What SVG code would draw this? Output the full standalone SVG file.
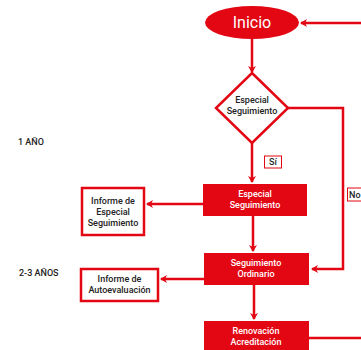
<svg xmlns="http://www.w3.org/2000/svg" width="361" height="350" viewBox="0 0 361 350">
<defs>
<marker id="ah" markerWidth="8" markerHeight="8" refX="6" refY="4" orient="auto" markerUnits="userSpaceOnUse">
<path d="M0,0 L7,4 L0,8 L2,4 Z" fill="#e30613"/>
</marker>
<style>
.ln{fill:none;stroke:#e30613;stroke-width:2.5}
.fill{fill:#e30613}
.out{fill:#fff;stroke:#e30613;stroke-width:2.5}
.wt{fill:#fff;font-family:Roboto,"Liberation Sans",sans-serif;font-size:9px;font-weight:500;text-anchor:middle}
.bt{fill:#222;font-family:Roboto,"Liberation Sans",sans-serif;font-size:9px;font-weight:500;text-anchor:middle}
.lb{fill:#222;font-family:Roboto,"Liberation Sans",sans-serif;font-size:9px;font-weight:500}
</style>
</defs>
<rect width="361" height="350" fill="#fff"/>
<g id="connectors">
<path class="ln" d="M361,23 L301,23" marker-end="url(#ah)"/>
<path class="ln" d="M252,39 L252,72" marker-end="url(#ah)"/>
<path class="ln" d="M252,142 L252,182" marker-end="url(#ah)"/>
<path class="ln" d="M288,108 L343,108 L343,269 L312,269" marker-end="url(#ah)"/>
<path class="ln" d="M203,204 L147,204" marker-end="url(#ah)"/>
<path class="ln" d="M253,216 L253,251" marker-end="url(#ah)"/>
<path class="ln" d="M204,279 L161,279" marker-end="url(#ah)"/>
<path class="ln" d="M254,285 L254,319" marker-end="url(#ah)"/>
<path class="ln" d="M309,338 L361,338"/>
</g>
<g id="inicio">
<ellipse cx="252" cy="22.5" rx="47" ry="16.5" class="fill"/>
<text x="252" y="28" class="wt" style="font-size:16px;font-weight:400">Inicio</text>
</g>
<g id="decision">
<polygon points="252,73 288,108 252,143 216,108" class="out"/>
<text x="252" y="103" class="bt">Especial</text>
<text x="252" y="114" class="bt">Seguimiento</text>
</g>
<g id="label-si">
<rect x="264.5" y="156" width="17" height="12" fill="#fff" stroke="#e30613" stroke-width="1"/>
<text x="273" y="165" class="bt">Sí</text>
</g>
<g id="label-no">
<rect x="347.5" y="188" width="20" height="13" fill="#fff" stroke="#e30613" stroke-width="1"/>
<text x="349" y="198" class="lb">No</text>
</g>
<g id="year1">
<text x="18" y="145" class="lb">1 AÑO</text>
</g>
<g id="year23">
<text x="19" y="276" class="lb">2-3 AÑOS</text>
</g>
<g id="especial-seguimiento">
<rect x="203" y="184" width="104" height="32" class="fill"/>
<text x="255" y="197" class="wt">Especial</text>
<text x="255" y="208" class="wt">Seguimiento</text>
</g>
<g id="informe-especial">
<rect x="82" y="188" width="62" height="47" class="out"/>
<text x="113" y="204" class="bt">Informe de</text>
<text x="113" y="215" class="bt">Especial</text>
<text x="113" y="226" class="bt">Seguimiento</text>
</g>
<g id="seguimiento-ordinario">
<rect x="204" y="253" width="105" height="32" class="fill"/>
<text x="256" y="266" class="wt">Seguimiento</text>
<text x="256" y="277" class="wt">Ordinario</text>
</g>
<g id="informe-autoevaluacion">
<rect x="81" y="269" width="77" height="32" class="out"/>
<text x="119.5" y="282" class="bt">Informe de</text>
<text x="119.5" y="293" class="bt">Autoevaluación</text>
</g>
<g id="renovacion">
<rect x="204" y="321" width="105" height="35" class="fill"/>
<text x="256" y="334" class="wt">Renovación</text>
<text x="256" y="345" class="wt">Acreditación</text>
</g>
</svg>
